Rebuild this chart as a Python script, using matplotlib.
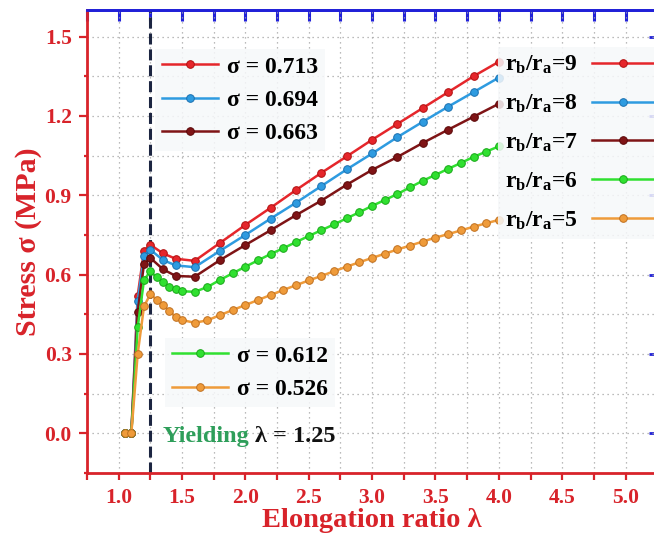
import matplotlib
matplotlib.use('Agg')
import matplotlib.pyplot as plt
from matplotlib.ticker import MultipleLocator

plt.rcParams['font.family'] = ['Liberation Serif', 'DejaVu Serif']
plt.rcParams['font.weight'] = 'bold'
plt.rcParams['mathtext.fontset'] = 'custom'
plt.rcParams['mathtext.rm'] = 'Liberation Serif:bold'
plt.rcParams['mathtext.it'] = 'Liberation Serif:bold:italic'

# r_b/r_a = 9, 8, 7  (points every 0.2 after the peak)
lam_9 = [1.05, 1.10, 1.15, 1.20, 1.25, 1.35, 1.45, 1.60, 1.80, 2.00, 2.20, 2.40,
         2.60, 2.80, 3.00, 3.20, 3.40, 3.60, 3.80, 4.00]
sig_9 = [0.0, 0.0, 0.52, 0.69, 0.713, 0.68, 0.66, 0.652, 0.72, 0.788, 0.853, 0.92,
         0.985, 1.047, 1.11, 1.17, 1.23, 1.29, 1.35, 1.405]
sig_8 = [0.0, 0.0, 0.50, 0.67, 0.694, 0.655, 0.635, 0.628, 0.69, 0.75, 0.812, 0.872,
         0.935, 0.998, 1.058, 1.12, 1.178, 1.235, 1.29, 1.345]
sig_7 = [0.0, 0.0, 0.46, 0.64, 0.663, 0.62, 0.595, 0.592, 0.655, 0.712, 0.768, 0.825,
         0.88, 0.94, 0.996, 1.045, 1.098, 1.148, 1.197, 1.246]

# r_b/r_a = 6, 5  (points every 0.1)
lam_6 = [1.05, 1.10, 1.15, 1.20, 1.25, 1.30, 1.35, 1.40, 1.45, 1.50, 1.60, 1.70, 1.80,
         1.90, 2.00, 2.10, 2.20, 2.30, 2.40, 2.50, 2.60, 2.70, 2.80, 2.90, 3.00,
         3.10, 3.20, 3.30, 3.40, 3.50, 3.60, 3.70, 3.80, 3.90, 4.00]
sig_6 = [0.0, 0.0, 0.40, 0.58, 0.612, 0.59, 0.572, 0.555, 0.545, 0.537, 0.535, 0.553, 0.58,
         0.605, 0.63, 0.654, 0.678, 0.70, 0.723, 0.746, 0.768, 0.79, 0.813, 0.836, 0.86,
         0.882, 0.905, 0.93, 0.955, 0.977, 1.0, 1.022, 1.045, 1.065, 1.085]
sig_5 = [0.0, 0.0, 0.30, 0.48, 0.526, 0.505, 0.485, 0.462, 0.44, 0.428, 0.418, 0.427, 0.447,
         0.466, 0.485, 0.504, 0.523, 0.542, 0.56, 0.578, 0.595, 0.613, 0.63, 0.647, 0.663,
         0.679, 0.695, 0.71, 0.725, 0.74, 0.753, 0.767, 0.781, 0.794, 0.807]

peaks = ['σ = 0.713', 'σ = 0.694', 'σ = 0.663', 'σ = 0.612', 'σ = 0.526']
ratios = [9, 8, 7, 6, 5]
colors = ['#e5262b', '#2e9be0', '#7f1416', '#30e030', '#ef9b3a']
edges = ['#b01010', '#1a70b0', '#5a0808', '#18a818', '#c07020']

red = '#d8232a'
blue = '#2020d8'

fig = plt.figure(figsize=(6.54, 5.35), dpi=100)
ax = fig.add_axes([0.133, 0.116, 0.872, 0.865])

series = [(lam_9, sig_9), (lam_9, sig_8), (lam_9, sig_7), (lam_6, sig_6), (lam_6, sig_5)]
lines = []
for (x, y), c, e in zip(series, colors, edges):
    ln, = ax.plot(x, y, '-o', color=c, lw=1.8, ms=5.5, mfc=c, mec=e, mew=0.7, zorder=3)
    lines.append(ln)

ax.axvline(1.25, color='#1c2541', lw=2.2, ls=(0, (3.6, 1.6)), zorder=2)

ax.set_xlim(0.75, 5.25)
ax.set_ylim(-0.15, 1.6)
ax.xaxis.set_major_locator(MultipleLocator(0.5))
ax.xaxis.set_minor_locator(MultipleLocator(0.25))
ax.yaxis.set_major_locator(MultipleLocator(0.3))
ax.yaxis.set_minor_locator(MultipleLocator(0.15))
ax.grid(True, which='both', color='#a5a5a5', lw=0.9, ls=(0, (1, 3)), zorder=0)

for s in ['left', 'bottom']:
    ax.spines[s].set_color(red)
    ax.spines[s].set_linewidth(2)
for s in ['top', 'right']:
    ax.spines[s].set_color(blue)
    ax.spines[s].set_linewidth(2)

ax.tick_params(axis='both', which='both', labelsize=15.5, labelcolor=red, width=1.6)
ax.tick_params(axis='x', which='both', bottom=True, top=False, direction='out', length=5,
               color=red, pad=6)
ax.tick_params(axis='y', which='major', left=True, right=False, direction='out', length=6,
               color=red, pad=5)
ax.tick_params(axis='y', which='minor', left=True, right=False, direction='out', length=2,
               color=red)

sec_x = ax.secondary_xaxis('top')
sec_x.xaxis.set_major_locator(MultipleLocator(0.25))
sec_x.tick_params(direction='in', length=8, width=2.2, color=blue, labeltop=False)
sec_x.spines['top'].set_color(blue)
sec_x.spines['top'].set_linewidth(2)
sec_y = ax.secondary_yaxis('right')
sec_y.yaxis.set_major_locator(MultipleLocator(0.3))
sec_y.tick_params(direction='in', length=6, width=2, color=blue, labelright=False)
sec_y.spines['right'].set_color(blue)

for lab in ax.get_xticklabels() + ax.get_yticklabels():
    lab.set_fontweight('bold')

ax.set_ylabel('Stress σ (MPa)', fontsize=21.5, color=red, fontweight='bold', labelpad=2)
ax.set_xlabel('Elongation ratio λ', fontsize=20.5, color=red, fontweight='bold', labelpad=0)

W, H = 654, 535
leg_kw = dict(frameon=True, fancybox=False, facecolor='#f6f8fa', edgecolor='none',
              framealpha=0.85, prop={'size': 17, 'weight': 'bold'}, borderpad=0.3,
              borderaxespad=0, bbox_transform=fig.transFigure, loc='upper left')

leg1 = ax.legend(lines[:3], peaks[:3], bbox_to_anchor=(155 / W, 1 - 49 / H),
                 handlelength=2.35, handletextpad=0.4, labelspacing=0.5, **leg_kw)
ax.add_artist(leg1)
leg2 = ax.legend(lines[3:], peaks[3:], bbox_to_anchor=(165 / W, 1 - 338 / H),
                 handlelength=2.35, handletextpad=0.4, labelspacing=0.5, **leg_kw)
ax.add_artist(leg2)
rlabels = [r'r$_\mathregular{b}$/r$_\mathregular{a}$=%d' % r for r in ratios]
leg3 = ax.legend(lines, rlabels, bbox_to_anchor=(498 / W, 1 - 47 / H), markerfirst=False,
                 handlelength=2.6, handletextpad=0.6, labelspacing=0.7, **leg_kw)

t1 = ax.text(1.347, -0.012, 'Yielding', color='#2e9e5a', fontsize=17.5,
             fontweight='bold', va='center', ha='left', zorder=5)
ax.annotate('λ = 1.25', xy=(1, 0.5), xycoords=t1, xytext=(4, 0),
            textcoords='offset points', va='center', ha='left', fontsize=17.5,
            fontweight='bold', color='#111111', zorder=5)

fig.savefig('out.png', dpi=100)
